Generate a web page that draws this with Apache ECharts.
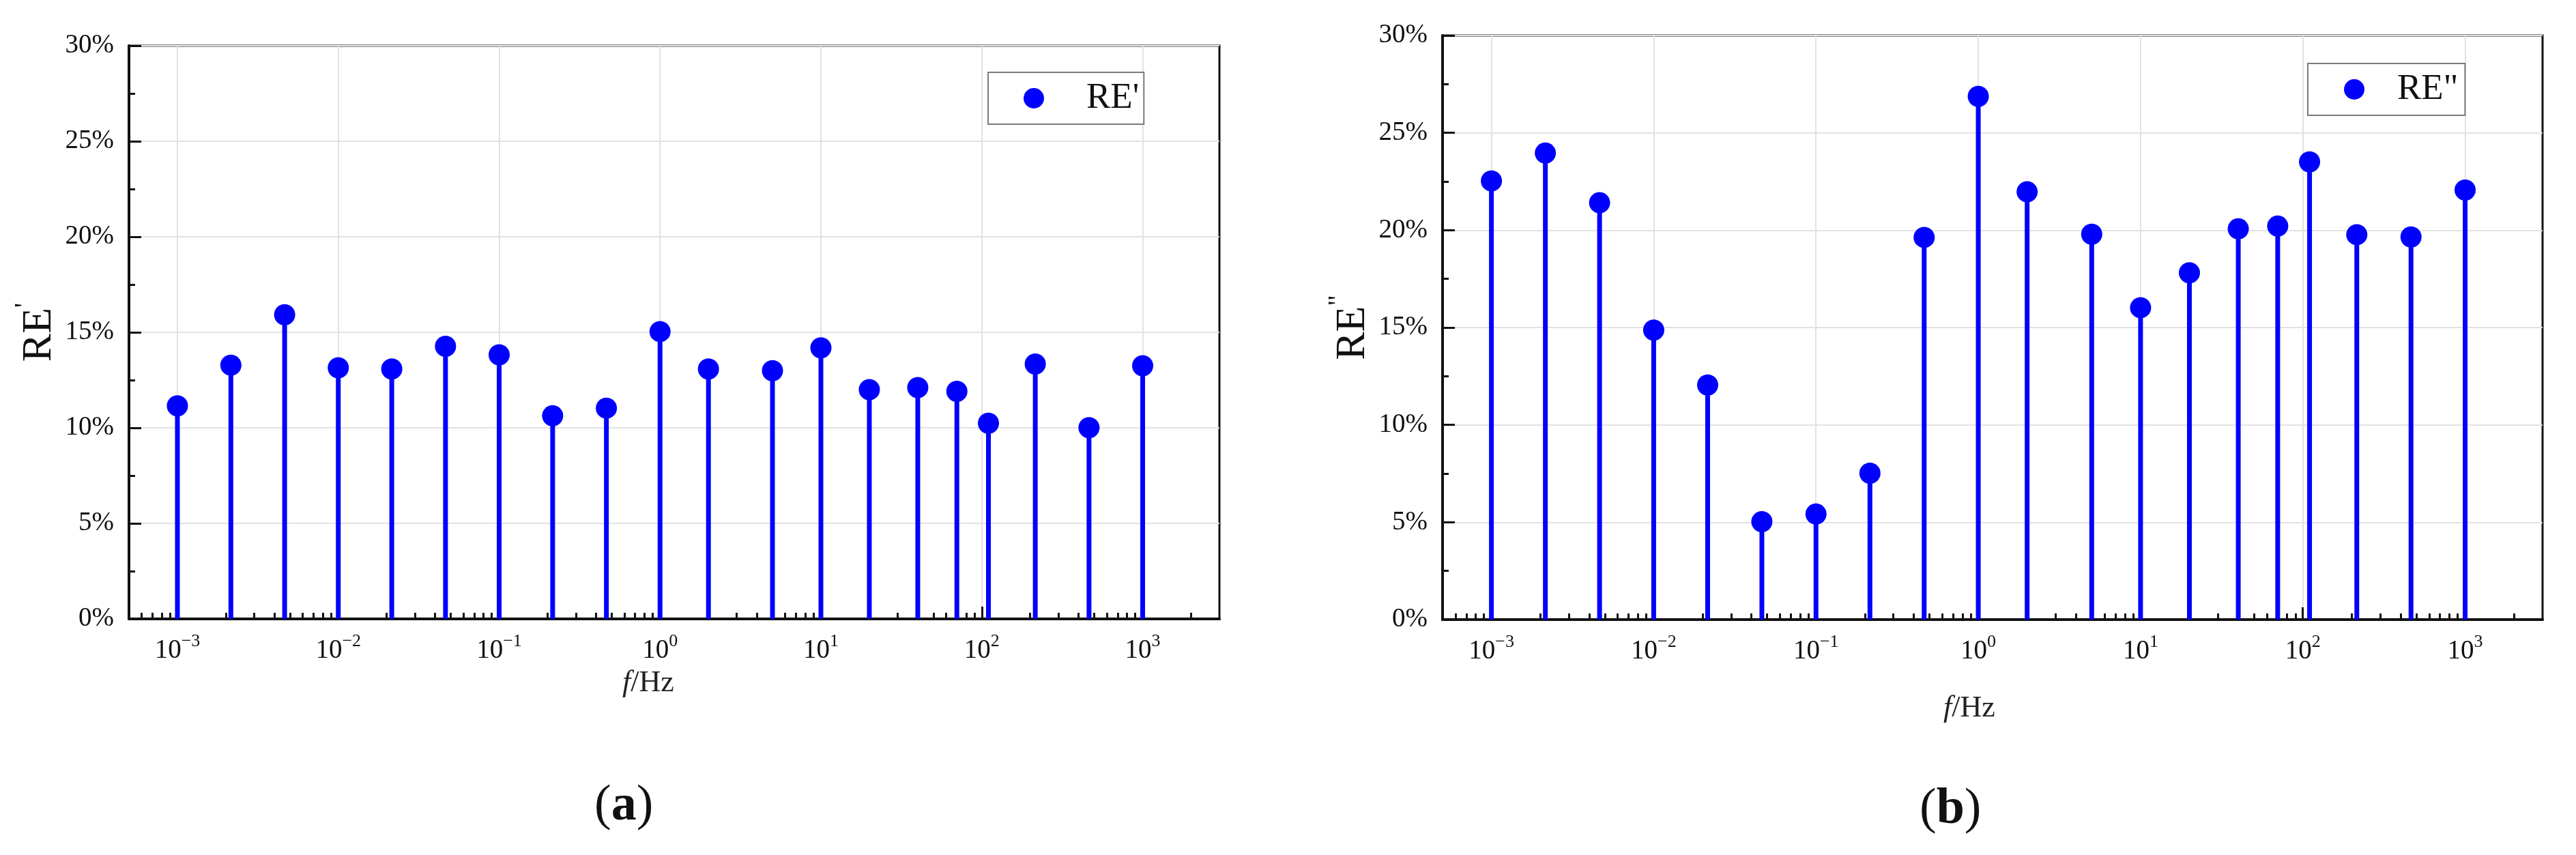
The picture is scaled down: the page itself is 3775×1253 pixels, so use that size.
<!DOCTYPE html>
<html>
<head>
<meta charset="utf-8">
<script src="https://cdn.jsdelivr.net/npm/echarts@6/dist/echarts.min.js"></script>
<style>
html,body{margin:0;padding:0;background:#fff;}
#chart{width:3775px;height:1253px;}
</style>
</head>
<body>
<div id="chart"></div>
<script>
// ---- data ----
const freqs = [0.001, 0.00215, 0.00464, 0.01, 0.0215, 0.0464, 0.1, 0.215, 0.464, 1, 2, 5, 10, 20, 40, 70, 110, 215, 464, 1000];
const reReal = [11.15, 13.28, 15.92, 13.14, 13.08, 14.27, 13.82, 10.63, 11.03, 15.04, 13.08, 12.99, 14.19, 12.0, 12.11, 11.91, 10.24, 13.34, 10.01, 13.25];
const reImag = [22.53, 23.96, 21.41, 14.87, 12.05, 5.03, 5.42, 7.52, 19.63, 26.87, 21.97, 19.79, 16.02, 17.81, 20.07, 20.21, 23.51, 19.77, 19.65, 22.06];
const majorTicks = [0.001, 0.01, 0.1, 1, 10, 100, 1000];
const minorTicks = [0.0006, 0.0007, 0.0008, 0.0009,
  0.002, 0.003, 0.004, 0.005, 0.006, 0.007, 0.008, 0.009,
  0.02, 0.03, 0.04, 0.05, 0.06, 0.07, 0.08, 0.09,
  0.2, 0.3, 0.4, 0.5, 0.6, 0.7, 0.8, 0.9,
  2, 3, 4, 5, 6, 7, 8, 9,
  20, 30, 40, 50, 60, 70, 80, 90,
  200, 300, 400, 500, 600, 700, 800, 900, 2000];
const xMin = 0.0005, xMax = 3000;
const yTicksMax = 30;

const FONT = 'Liberation Serif';
const BLUE = '#0000ff';

function pairs(vals) { return freqs.map((f, i) => [f, vals[i]]); }

function expLabel(v) {
  const e = Math.round(Math.log10(v));
  if (Math.abs(Math.log10(v) - e) > 1e-6) return '';
  const s = e < 0 ? '\u2212' + (-e) : String(e);
  return '{b|10}{s|' + s + '}';
}

const xRich = {
  b: { fontFamily: FONT, fontSize: 39, color: '#111', lineHeight: 46, verticalAlign: 'bottom' },
  s: { fontFamily: FONT, fontSize: 26, color: '#111', lineHeight: 26, verticalAlign: 'top' }
};

function makeX(gridIndex, nameGap, namePadRight) {
  return [{
    type: 'log', gridIndex, min: xMin, max: xMax, logBase: 10,
    name: '{i|f}{n|/Hz}', nameLocation: 'middle', nameGap,
    nameTextStyle: {
      padding: [0, namePadRight, 0, 0],
      rich: {
        i: { fontFamily: FONT, fontSize: 44, fontStyle: 'italic', color: '#222' },
        n: { fontFamily: FONT, fontSize: 44, color: '#222' }
      }
    },
    axisLine: { show: true, onZero: false, lineStyle: { color: '#111', width: 4 } },
    axisTick: { show: true, inside: true, length: 18, customValues: majorTicks, lineStyle: { color: '#111', width: 3 } },
    axisLabel: { show: true, customValues: majorTicks, margin: 20, formatter: expLabel, rich: xRich },
    splitLine: { show: true, lineStyle: { color: '#e2e2e2', width: 2 } },
    minorTick: { show: false }
  }, {
    type: 'log', gridIndex, min: xMin, max: xMax, logBase: 10, position: 'bottom',
    axisLine: { show: false },
    axisTick: { show: true, inside: true, length: 9, customValues: minorTicks, lineStyle: { color: '#111', width: 3 } },
    axisLabel: { show: false },
    splitLine: { show: false }
  }];
}

function makeY(gridIndex, sup, nameGap) {
  return {
    type: 'value', gridIndex, min: 0, max: yTicksMax, interval: 5,
    name: '{r|RE}{s|' + sup + '}', nameLocation: 'middle', nameRotate: 90, nameGap,
    nameTextStyle: {
      rich: {
        r: { fontFamily: FONT, fontSize: 62, color: '#111', lineHeight: 72, verticalAlign: 'bottom' },
        s: { fontFamily: FONT, fontSize: 40, color: '#111', lineHeight: 40, verticalAlign: 'top' }
      }
    },
    axisLine: { show: true, lineStyle: { color: '#111', width: 4 } },
    axisTick: { show: true, inside: true, length: 18, lineStyle: { color: '#111', width: 3 } },
    minorTick: { show: true, splitNumber: 2, length: 9, lineStyle: { color: '#111', width: 3 } },
    axisLabel: { formatter: '{value}%', fontFamily: FONT, fontSize: 39, color: '#111', margin: 22 },
    splitLine: { show: true, lineStyle: { color: '#e2e2e2', width: 2 } }
  };
}

function makeSeries(name, vals, xi, yi) {
  return [{
    name: name + ' stem', type: 'bar', xAxisIndex: xi, yAxisIndex: yi,
    data: pairs(vals), barWidth: 7, itemStyle: { color: BLUE }, silent: true, z: 2
  }, {
    name, type: 'scatter', xAxisIndex: xi, yAxisIndex: yi,
    data: pairs(vals), symbol: 'circle', symbolSize: 31,
    itemStyle: { color: BLUE, opacity: 1 }, z: 3
  }];
}

function makeLegend(name, left, top, padding, textPad) {
  return {
    data: [name], left, top, orient: 'horizontal',
    padding, itemWidth: 30, itemHeight: 30, icon: 'circle',
    borderColor: '#7a7a7a', borderWidth: 2, backgroundColor: '#fff',
    textStyle: { fontFamily: FONT, fontSize: 53, color: '#111', lineHeight: 60, padding: [0, 0, 0, textPad] }
  };
}

const panelRich = {
  p: { fontFamily: FONT, fontSize: 74, fontWeight: 'normal', color: '#111' },
  a: { fontFamily: FONT, fontSize: 74, fontWeight: 'bold', color: '#111' }
};

const chart = echarts.init(document.getElementById('chart'), null, { renderer: 'canvas' });
chart.setOption({
  backgroundColor: '#fff',
  animation: false,
  grid: [
    { left: 189, top: 67, width: 1598, height: 840, show: true, borderColor: '#111', borderWidth: 3, containLabel: false },
    { left: 2114, top: 52, width: 1612, height: 856, show: true, borderColor: '#111', borderWidth: 3, containLabel: false }
  ],
  title: [
    { text: '{p|(}{a|a}{p|)}', left: 866, top: 1140, textStyle: { fontWeight: 'normal', rich: panelRich } },
    { text: '{p|(}{a|b}{p|)}', left: 2808, top: 1145, textStyle: { fontWeight: 'normal', rich: panelRich } }
  ],
  legend: [
    makeLegend("RE'", 1448, 106, [8, 7, 8, 52], 57),
    makeLegend('RE"', 3382, 93, [8, 10, 8, 53], 43)
  ],
  xAxis: [].concat(makeX(0, 72, 76), makeX(1, 108, 68)),
  yAxis: [makeY(0, "'", 100), makeY(1, '"', 100)],
  series: [].concat(makeSeries("RE'", reReal, 0, 0), makeSeries('RE"', reImag, 2, 1))
});
</script>
</body>
</html>
